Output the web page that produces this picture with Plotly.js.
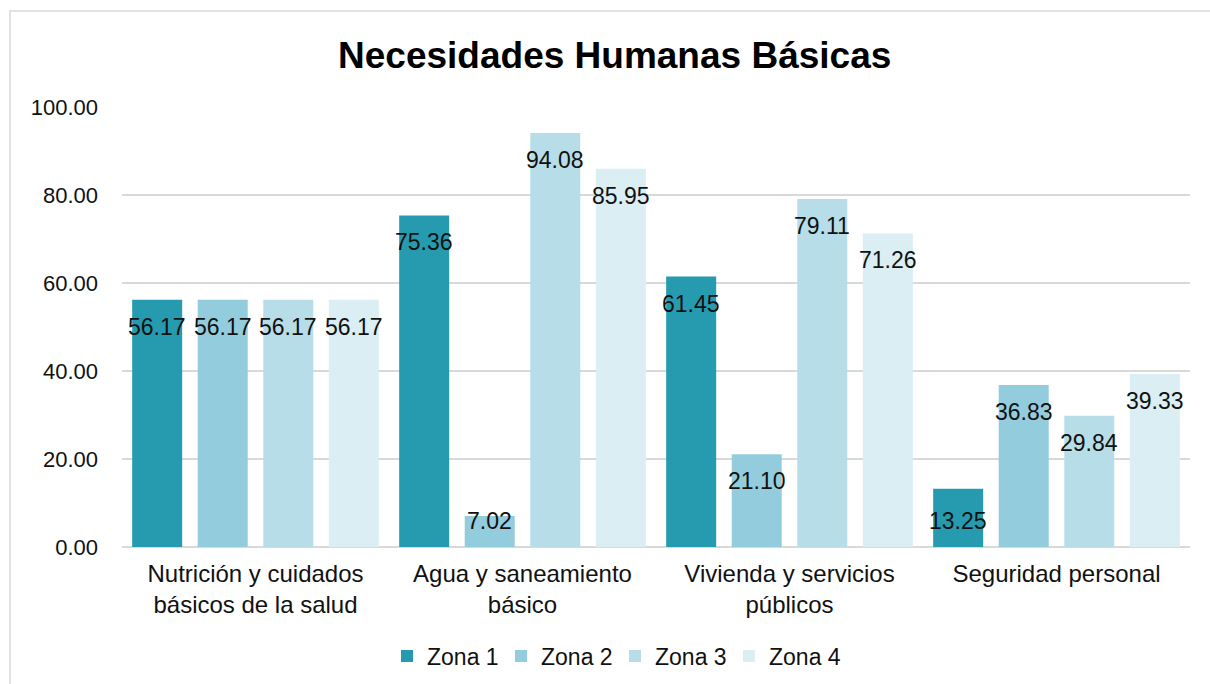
<!DOCTYPE html>
<html>
<head>
<meta charset="utf-8">
<script src="https://cdn.plot.ly/plotly-3.0.1.min.js"></script>
<style>
html,body{margin:0;padding:0;background:#fff;}
#chart{width:1210px;height:684px;}
</style>
</head>
<body>
<div id="chart"></div>
<script>
const categories = [
  "Nutrición y cuidados<br>básicos de la salud",
  "Agua y saneamiento<br>básico",
  "Vivienda y servicios<br>públicos",
  "Seguridad personal"
];
const seriesNames = ["Zona 1", "Zona 2", "Zona 3", "Zona 4"];
const zona1 = [56.17, 75.36, 61.45, 13.25];
const zona2 = [56.17, 7.02, 21.10, 36.83];
const zona3 = [56.17, 94.08, 79.11, 29.84];
const zona4 = [56.17, 85.95, 71.26, 39.33];
const yTicks = [0, 20, 40, 60, 80, 100];

const seriesValues = [zona1, zona2, zona3, zona4];
const colors = ["#269BAF", "#93CCDD", "#B7DDE8", "#DAEEF3"];
const FONT = "Liberation Sans, Arial, sans-serif";
const bargap = 0.018;

const traces = seriesValues.map((vals, i) => ({
  type: "bar",
  name: seriesNames[i],
  x: categories,
  y: vals,
  marker: {color: colors[i]},
  hoverinfo: "skip"
}));

const annotations = [];
const slot = (1 - bargap) / seriesValues.length;
seriesValues.forEach((vals, i) => {
  vals.forEach((v, c) => {
    let ys = -27;
    if (v < 10) ys = -5;
    else if (v < 15) ys = -32;
    annotations.push({
      x: c + (i - (seriesValues.length - 1) / 2) * slot,
      y: v,
      xref: "x", yref: "y",
      text: v.toFixed(2),
      showarrow: false,
      yshift: ys,
      yanchor: "middle",
      font: {family: FONT, size: 23, color: "#111"}
    });
  });
});

const layout = {
  width: 1210, height: 684,
  margin: {l: 122, r: 20, t: 107, b: 137},
  paper_bgcolor: "#fff", plot_bgcolor: "#fff",
  title: {
    text: "<b>Necesidades Humanas Básicas</b>",
    font: {family: FONT, size: 37, color: "#000"},
    x: 0.508, xanchor: "center",
    y: 1 - 55 / 684, yanchor: "middle"
  },
  barmode: "group",
  bargap: bargap,
  bargroupgap: 0.237,
  xaxis: {
    type: "category",
    tickfont: {family: FONT, size: 24, color: "#111"},
    showgrid: false, zeroline: false, showline: false,
    ticks: "", ticklabelstandoff: 10
  },
  yaxis: {
    range: [0, 100],
    tickvals: yTicks,
    ticktext: yTicks.map(t => t.toFixed(2)),
    tickfont: {family: FONT, size: 22, color: "#111"},
    gridcolor: "#D9D9D9", gridwidth: 1.5,
    zeroline: true, zerolinecolor: "#D9D9D9", zerolinewidth: 1.5,
    showline: false, ticks: "", ticklabelstandoff: 23
  },
  showlegend: true,
  legend: {
    orientation: "h",
    xref: "container", yref: "container",
    x: 615 / 1210, xanchor: "center",
    y: 1 - 656 / 684, yanchor: "middle",
    font: {family: FONT, size: 23, color: "#111"},
    entrywidth: 69, entrywidthmode: "pixels",
    traceorder: "normal"
  },
  annotations: annotations,
  shapes: [{
    type: "rect", xref: "paper", yref: "paper",
    x0: (10 - 122) / 1068, x1: (1230 - 122) / 1068,
    y0: (547 - 700) / 440, y1: (547 - 11) / 440,
    line: {color: "#D9D9D9", width: 1.5},
    fillcolor: "rgba(0,0,0,0)", layer: "below"
  }]
};

Plotly.newPlot("chart", traces, layout, {displayModeBar: false, staticPlot: true});
</script>
</body>
</html>
